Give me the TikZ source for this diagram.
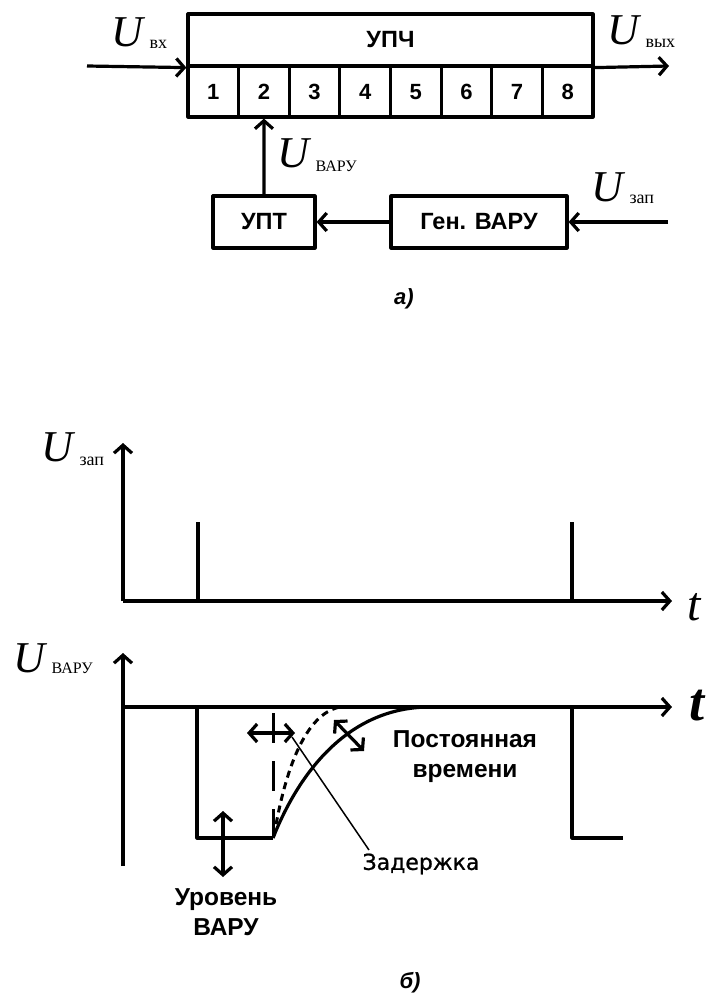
\documentclass[tikz,border=0pt]{standalone}
\usepackage{fontspec}
\setmainfont{Liberation Serif}
\setsansfont{Liberation Sans}
\newfontfamily\dvs[FakeBold=1]{DejaVu Sans}
\usetikzlibrary{arrows.meta,calc}
\begin{document}
\begin{tikzpicture}[x=1pt,y=-1pt, line width=3.2pt, line join=round,
  arr/.style={-{Straight Barb[length=8pt,width=18pt]}},
  darr/.style={{Straight Barb[length=8pt,width=18pt]}-{Straight Barb[length=8pt,width=18pt]}},
  blk/.style={draw, minimum height=52pt, inner sep=0pt, font=\fontsize{23.5}{26}\selectfont\sffamily\bfseries},
  cell/.style={draw, minimum width=50.625pt, minimum height=51pt, inner sep=0pt, text height=15.8pt, text depth=0pt, font=\fontsize{22}{24}\selectfont\sffamily\bfseries},
  bigU/.style={inner sep=0pt, anchor=base west, font=\fontsize{44}{46}\selectfont\itshape},
  sub/.style={inner sep=0pt, anchor=base west, font=\fontsize{18}{20}\selectfont},
  subc/.style={inner sep=0pt, anchor=base west, font=\fontsize{16}{18}\selectfont},
  lbl/.style={inner sep=0pt, align=center, font=\fontsize{24.5}{30}\selectfont\sffamily\bfseries},
  captn/.style={inner sep=0pt, font=\fontsize{22}{24}\selectfont\sffamily\bfseries\itshape},
]
\useasboundingbox (0,0) rectangle (719,999);

% ---- block diagram ----
\node[draw, minimum width=405pt, minimum height=52pt, inner sep=0pt,
      font=\fontsize{23.5}{26}\selectfont\sffamily\bfseries] (upch) at (390.5,40) {УПЧ};
\foreach \i in {1,...,8}
  \node[cell] (c\i) at ({188+50.625*(\i-0.5)},91.5) {\i};
\coordinate (in) at (87,66);
\coordinate (out) at (669,66);
\draw[arr] (in) -- (upch.south west);
\draw[arr] (upch.south east) -- (out);

\node[blk, minimum width=102pt] (upt) at (264,222) {УПТ};
\node[blk, minimum width=176pt] (gen) at (479,222) {Ген. ВАРУ};
\coordinate (zin) at (668,222);
\draw[arr] (zin) -- (gen.east);
\draw[arr] (gen.west) -- (upt.east);
\draw[arr] (upt.north) -- (c2.south);

\node[bigU] (uvx) at (110,46) {U};
\node[sub] (uvxs) at ($(uvx.base east)+(3,2)$) {вх};
\node[bigU] (uvy) at (606,44) {U};
\node[sub] (uvys) at ($(uvy.base east)+(3,3)$) {вых};
\node[bigU] (uva) at (276,167) {U};
\node[subc] (uvas) at ($(uva.base east)+(3,4)$) {ВАРУ};
\node[bigU] (uza) at (590,201) {U};
\node[sub] (uzas) at ($(uza.base east)+(3,2)$) {зап};
\node[captn] (la) at (404,299) {а)};

% ---- graph 1 ----
\coordinate (o1) at (123,601);
\coordinate (y1) at (123,443);
\coordinate (x1) at (672,601);
\draw[arr] (o1) -- (y1);
\draw[arr] (o1) -- (x1);
\draw (198,601) -- (198,522);
\draw (572,601) -- (572,522);
\node[bigU] (g1u) at (40,461) {U};
\node[sub] (g1us) at ($(g1u.base east)+(3,4)$) {зап};
\node[inner sep=0pt, anchor=base west, font=\fontsize{48}{50}\selectfont\itshape] (t1) at (686,620) {t};

% ---- graph 2 ----
\coordinate (o2) at (123,866);
\coordinate (y2) at (123,653);
\coordinate (a2) at (123,707);
\coordinate (x2) at (672,707);
\draw[arr] (o2) -- (y2);
\draw[arr] (a2) -- (x2);
\draw (197,707) -- (197,838) -- (273,838);
\draw (273,838) .. controls (300,770) and (350,707) .. (430,707);
\draw (572,707) -- (572,838) -- (623,838);
\draw[line width=3pt, dash pattern=on 7pt off 5pt] (274,836) .. controls (285,770) and (305,714) .. (340,707);
\draw[line width=3pt, dash pattern=on 30pt off 18pt] (273,713) -- (273,838);
\draw[darr] (247,733) -- (295,733);
\draw[darr] (334,720) -- (364,751);
\draw[darr] (223,811) -- (223,877);

\node[bigU] (g2u) at (12,672) {U};
\node[subc] (g2us) at ($(g2u.base east)+(3,1)$) {ВАРУ};
\node[inner sep=0pt, anchor=base west, font=\fontsize{54}{56}\selectfont\bfseries\itshape] (t2) at (688,720) {t};
\node[lbl] (tc) at (465,757) {Постоянная\\времени};
\node[lbl] (lv) at (226,912) {Уровень\\ВАРУ};
\node[inner sep=0pt, font=\fontsize{22}{24}\selectfont\dvs] (zad) at (421,864) {Задержка};
\draw[line width=1.5pt] (292,737) -- ($(zad.north west)+(8,-2)$);
\node[captn] (lb) at (410,983) {б)};
\end{tikzpicture}
\end{document}
